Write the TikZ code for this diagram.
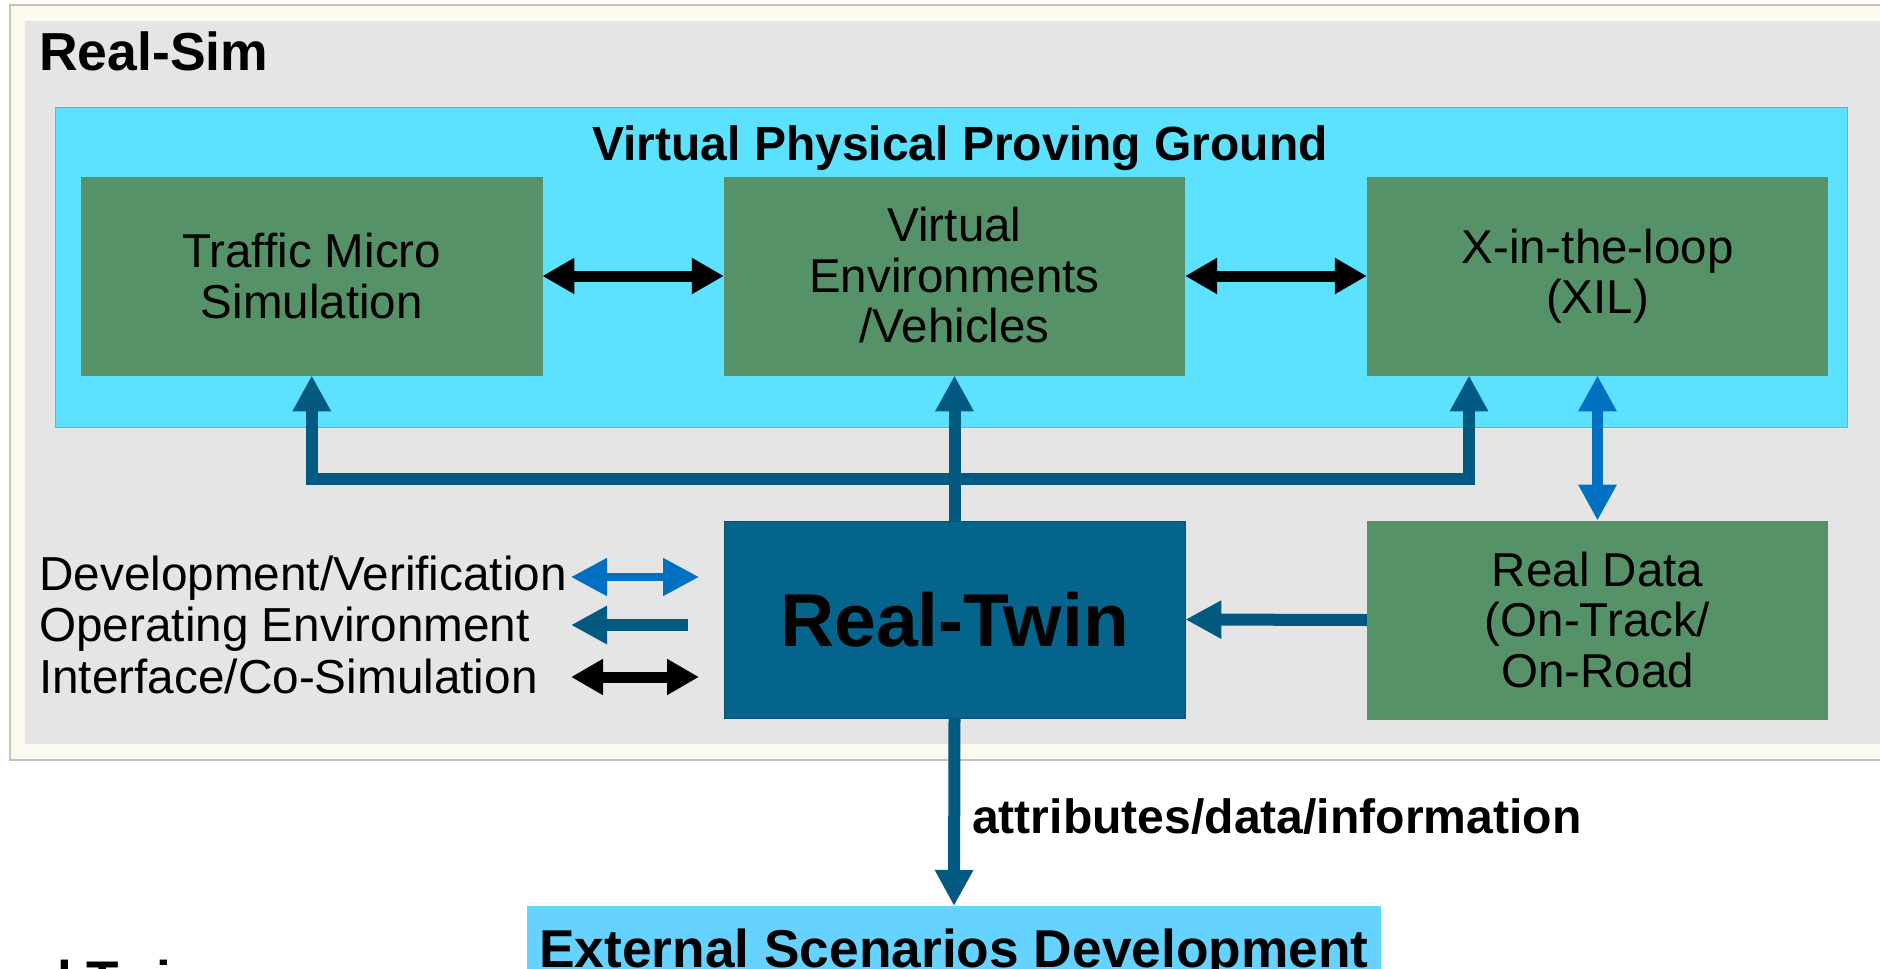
\documentclass[tikz,border=0pt]{standalone}
\usepackage{fontspec}
\setmainfont{Liberation Sans}
\usetikzlibrary{arrows.meta,calc}
\definecolor{beige}{HTML}{FCF9EE}
\definecolor{beigeline}{HTML}{C4C2BC}
\definecolor{panelgray}{HTML}{E5E5E5}
\definecolor{cyanpanel}{HTML}{5CE1FE}
\definecolor{boxgreen}{HTML}{559268}
\definecolor{twinblue}{HTML}{05648C}
\definecolor{opblue}{HTML}{035A80}
\definecolor{devblue}{HTML}{0070C0}
\definecolor{extcyan}{HTML}{66D2FF}
\begin{document}
\begin{tikzpicture}[x=1pt,y=-1pt,
  gbox/.style={rectangle, fill=boxgreen, draw=boxgreen!80!gray, line width=0.8pt,
    minimum width=460.5pt, minimum height=198pt, inner sep=0pt, align=center,
    font=\fontsize{47.5}{50.5}\selectfont},
  txt/.style={inner sep=0pt, anchor=base west},
  optip/.style={-{Triangle[width=36pt,length=36pt]}},
  oparr/.style={draw=opblue, line width=12pt},
  devarr/.style={draw=devblue, line width=11pt, {Triangle[width=36pt,length=36pt]}-{Triangle[width=36pt,length=36pt]}},
  ciarr/.style={draw=black, line width=11pt, {Triangle[width=34pt,length=32pt]}-{Triangle[width=34pt,length=32pt]}}
]
\useasboundingbox (0,0) rectangle (1880,969);
\fill[white] (0,0) rectangle (1880,969);
% panels
\draw[fill=beige, draw=beigeline, line width=1.2pt] (10,5) rectangle (1895,760);
\fill[panelgray] (25,21) rectangle (1895,744);
\draw[fill=cyanpanel, draw=gray!75, line width=1pt] (55,107) rectangle (1847,427);
% titles
\node[txt, font=\fontsize{53.5}{60}\selectfont\bfseries] (realsim) at (39,70) {Real-Sim};
\node[inner sep=0pt, anchor=base, font=\fontsize{48}{55}\selectfont\bfseries] (vppg) at (960,160) {Virtual Physical Proving Ground};
% boxes
\node[gbox] (TMS) at (311.75,276) {Traffic Micro\\Simulation};
\node[gbox, text depth=2pt] (VE) at (954.5,276) {Virtual\\Environments\\/Vehicles};
\node[gbox] (XIL) at (1597.5,276) {X-in-the-loop\\(XIL)};
\node[gbox] (RD) at (1597.5,620) {Real Data\\(On-Track/\\On-Road};
\node[rectangle, fill=twinblue, draw=twinblue!80!black, line width=0.8pt, minimum width=461pt, minimum height=197pt,
  inner sep=0pt, font=\fontsize{75}{80}\selectfont\bfseries] (RT) at (954.5,619.5) {Real-Twin};
\node[rectangle, fill=extcyan, anchor=north, minimum width=854pt, inner xsep=0pt, inner ysep=23pt,
  text height=38pt, text depth=20pt, font=\fontsize{53.3}{60}\selectfont\bfseries] (ESD) at (954,906) {External Scenarios Development};
\node[txt, font=\fontsize{53}{60}\selectfont\bfseries] (cut) at (57,998) {l Twin};
% legend
\node[txt, font=\fontsize{47.7}{52}\selectfont] (lg1) at (39,590) {Development/Verification};
\node[txt, font=\fontsize{47.7}{52}\selectfont] (lg2) at (39,641.5) {Operating Environment};
\node[txt, font=\fontsize{47.7}{52}\selectfont] (lg3) at (39,693) {Interface/Co-Simulation};
\coordinate (l1a) at (571,577); \coordinate (l1b) at (699,577);
\coordinate (l2a) at (688,625); \coordinate (l2b) at (571,625);
\coordinate (l3a) at (571,677); \coordinate (l3b) at (699,677);
\draw[devarr, line width=8pt] (l1a) -- (l1b);
\draw[oparr, optip] (l2a) -- (l2b);
\draw[ciarr] (l3a) -- (l3b);
% interface arrows
\draw[ciarr] (TMS.east) -- (VE.west);
\draw[ciarr] (VE.east) -- (XIL.west);
% operating environment arrows
\coordinate (j) at (954.5,479);
\coordinate (xin) at ($(XIL.south)+(-128.5,0)$);
\draw[oparr, {Triangle[width=36pt,length=36pt]}-{Triangle[width=36pt,length=36pt]}]
  (TMS.south) -- (TMS.south |- j) -- (xin |- j) -- (xin);
\draw[oparr, optip] (RT.north) -- (VE.south);
\draw[oparr, optip] (RD.west) -- (RT.east);
\draw[oparr, optip] (RT.south) -- (ESD.north);
% development arrow
\draw[devarr] (XIL.south) -- (RD.north);
% label
\node[txt, font=\fontsize{48.1}{52}\selectfont\bfseries] (attr) at (972,833) {attributes/data/information};
\end{tikzpicture}
\end{document}
